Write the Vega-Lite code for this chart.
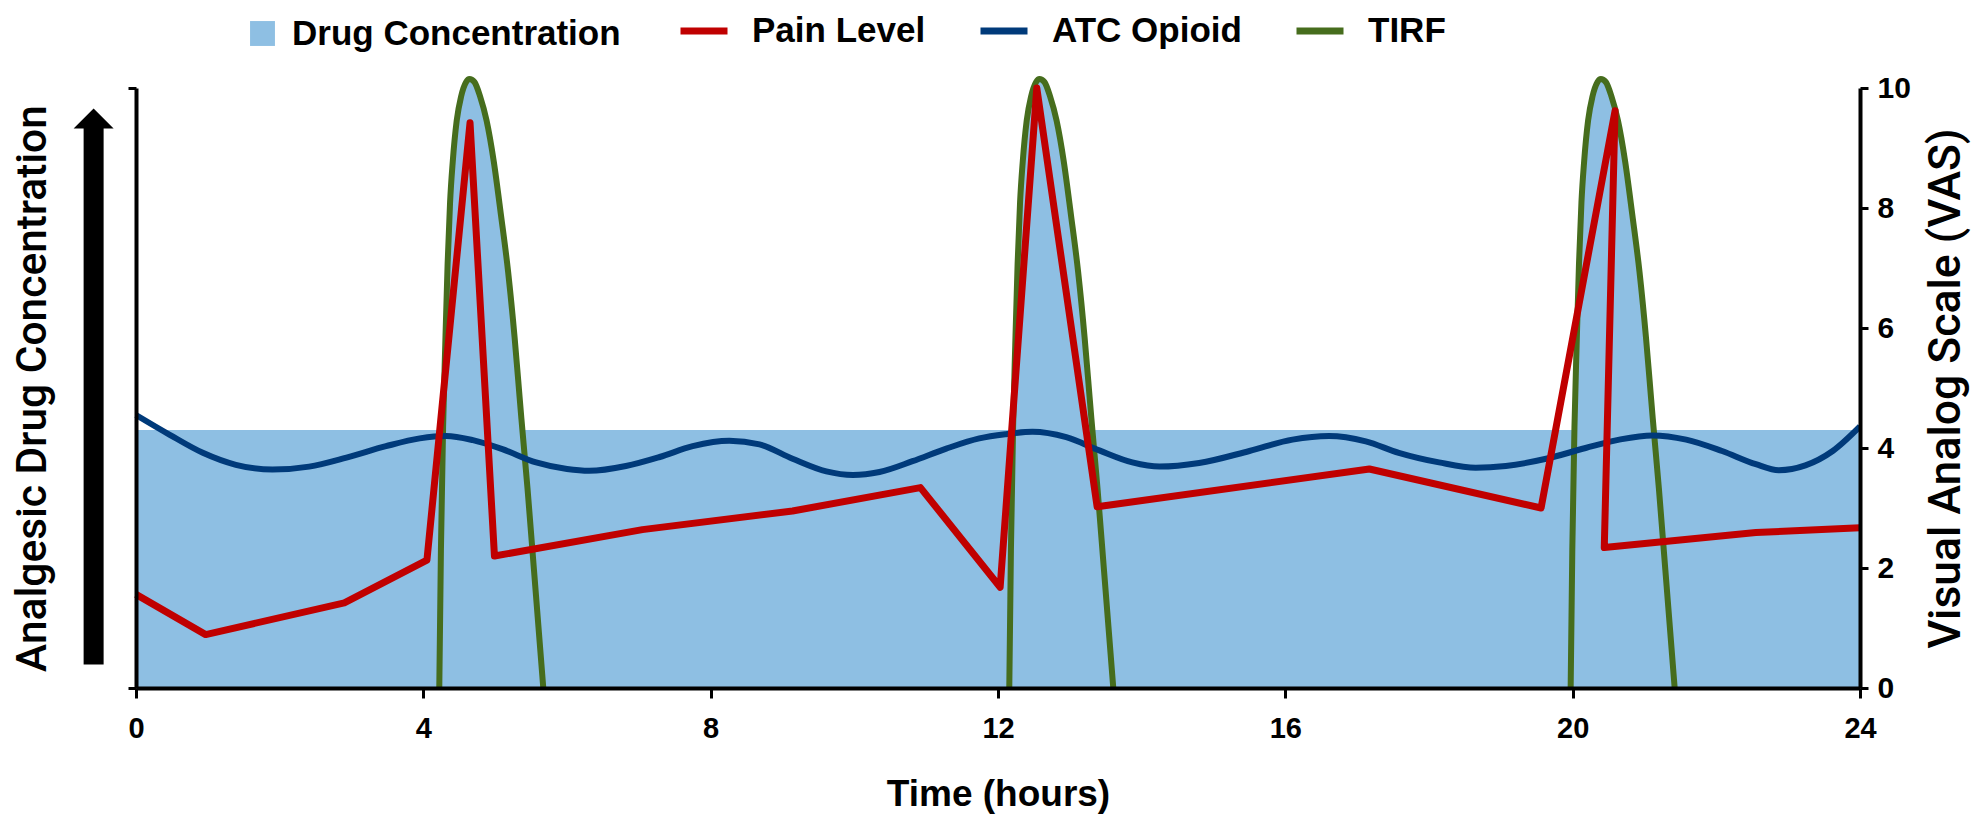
{
  "$schema": "https://vega.github.io/schema/vega-lite/v6.json",
  "width": 1724,
  "height": 600,
  "autosize": {"type": "none"},
  "padding": {"left": 136, "top": 88, "right": 111, "bottom": 128},
  "config": {"view": {"stroke": null}, "font": "Liberation Sans"},
  "datasets": {
    "conc": [
      {"series": "Drug Concentration", "t": 0, "v": 4.3},
      {"series": "Drug Concentration", "t": 4.274, "v": 4.3},
      {"series": "Drug Concentration", "t": 4.305, "v": 5.71},
      {"series": "Drug Concentration", "t": 4.338, "v": 7.07},
      {"series": "Drug Concentration", "t": 4.372, "v": 8.09},
      {"series": "Drug Concentration", "t": 4.41, "v": 8.78},
      {"series": "Drug Concentration", "t": 4.465, "v": 9.46},
      {"series": "Drug Concentration", "t": 4.526, "v": 9.86},
      {"series": "Drug Concentration", "t": 4.596, "v": 10.1},
      {"series": "Drug Concentration", "t": 4.642, "v": 10.15},
      {"series": "Drug Concentration", "t": 4.711, "v": 10.1},
      {"series": "Drug Concentration", "t": 4.79, "v": 9.86},
      {"series": "Drug Concentration", "t": 4.88, "v": 9.46},
      {"series": "Drug Concentration", "t": 4.98, "v": 8.78},
      {"series": "Drug Concentration", "t": 5.08, "v": 7.89},
      {"series": "Drug Concentration", "t": 5.18, "v": 6.94},
      {"series": "Drug Concentration", "t": 5.27, "v": 5.85},
      {"series": "Drug Concentration", "t": 5.32, "v": 5.14},
      {"series": "Drug Concentration", "t": 5.365, "v": 4.49},
      {"series": "Drug Concentration", "t": 5.379, "v": 4.3},
      {"series": "Drug Concentration", "t": 12.209, "v": 4.3},
      {"series": "Drug Concentration", "t": 12.24, "v": 5.71},
      {"series": "Drug Concentration", "t": 12.273, "v": 7.07},
      {"series": "Drug Concentration", "t": 12.307, "v": 8.09},
      {"series": "Drug Concentration", "t": 12.345, "v": 8.78},
      {"series": "Drug Concentration", "t": 12.4, "v": 9.46},
      {"series": "Drug Concentration", "t": 12.461, "v": 9.86},
      {"series": "Drug Concentration", "t": 12.531, "v": 10.1},
      {"series": "Drug Concentration", "t": 12.577, "v": 10.15},
      {"series": "Drug Concentration", "t": 12.646, "v": 10.1},
      {"series": "Drug Concentration", "t": 12.725, "v": 9.86},
      {"series": "Drug Concentration", "t": 12.815, "v": 9.46},
      {"series": "Drug Concentration", "t": 12.915, "v": 8.78},
      {"series": "Drug Concentration", "t": 13.015, "v": 7.89},
      {"series": "Drug Concentration", "t": 13.115, "v": 6.94},
      {"series": "Drug Concentration", "t": 13.205, "v": 5.85},
      {"series": "Drug Concentration", "t": 13.255, "v": 5.14},
      {"series": "Drug Concentration", "t": 13.3, "v": 4.49},
      {"series": "Drug Concentration", "t": 13.314, "v": 4.3},
      {"series": "Drug Concentration", "t": 20.024, "v": 4.3},
      {"series": "Drug Concentration", "t": 20.055, "v": 5.71},
      {"series": "Drug Concentration", "t": 20.088, "v": 7.07},
      {"series": "Drug Concentration", "t": 20.122, "v": 8.09},
      {"series": "Drug Concentration", "t": 20.16, "v": 8.78},
      {"series": "Drug Concentration", "t": 20.215, "v": 9.46},
      {"series": "Drug Concentration", "t": 20.276, "v": 9.86},
      {"series": "Drug Concentration", "t": 20.346, "v": 10.1},
      {"series": "Drug Concentration", "t": 20.392, "v": 10.15},
      {"series": "Drug Concentration", "t": 20.461, "v": 10.1},
      {"series": "Drug Concentration", "t": 20.54, "v": 9.86},
      {"series": "Drug Concentration", "t": 20.63, "v": 9.46},
      {"series": "Drug Concentration", "t": 20.73, "v": 8.78},
      {"series": "Drug Concentration", "t": 20.83, "v": 7.89},
      {"series": "Drug Concentration", "t": 20.93, "v": 6.94},
      {"series": "Drug Concentration", "t": 21.02, "v": 5.85},
      {"series": "Drug Concentration", "t": 21.07, "v": 5.14},
      {"series": "Drug Concentration", "t": 21.115, "v": 4.49},
      {"series": "Drug Concentration", "t": 21.129, "v": 4.3},
      {"series": "Drug Concentration", "t": 24, "v": 4.3}
    ],
    "tirf": [
      {"series": "TIRF", "seg": 1, "t": 4.222, "v": 0},
      {"series": "TIRF", "seg": 1, "t": 4.245, "v": 2.31},
      {"series": "TIRF", "seg": 1, "t": 4.275, "v": 4.35},
      {"series": "TIRF", "seg": 1, "t": 4.305, "v": 5.71},
      {"series": "TIRF", "seg": 1, "t": 4.338, "v": 7.07},
      {"series": "TIRF", "seg": 1, "t": 4.372, "v": 8.09},
      {"series": "TIRF", "seg": 1, "t": 4.41, "v": 8.78},
      {"series": "TIRF", "seg": 1, "t": 4.465, "v": 9.46},
      {"series": "TIRF", "seg": 1, "t": 4.526, "v": 9.86},
      {"series": "TIRF", "seg": 1, "t": 4.596, "v": 10.1},
      {"series": "TIRF", "seg": 1, "t": 4.642, "v": 10.15},
      {"series": "TIRF", "seg": 1, "t": 4.711, "v": 10.1},
      {"series": "TIRF", "seg": 1, "t": 4.79, "v": 9.86},
      {"series": "TIRF", "seg": 1, "t": 4.88, "v": 9.46},
      {"series": "TIRF", "seg": 1, "t": 4.98, "v": 8.78},
      {"series": "TIRF", "seg": 1, "t": 5.08, "v": 7.89},
      {"series": "TIRF", "seg": 1, "t": 5.18, "v": 6.94},
      {"series": "TIRF", "seg": 1, "t": 5.27, "v": 5.85},
      {"series": "TIRF", "seg": 1, "t": 5.32, "v": 5.14},
      {"series": "TIRF", "seg": 1, "t": 5.365, "v": 4.49},
      {"series": "TIRF", "seg": 1, "t": 5.45, "v": 3.33},
      {"series": "TIRF", "seg": 1, "t": 5.54, "v": 1.97},
      {"series": "TIRF", "seg": 1, "t": 5.67, "v": 0},
      {"series": "TIRF", "seg": 2, "t": 12.157, "v": 0},
      {"series": "TIRF", "seg": 2, "t": 12.18, "v": 2.31},
      {"series": "TIRF", "seg": 2, "t": 12.21, "v": 4.35},
      {"series": "TIRF", "seg": 2, "t": 12.24, "v": 5.71},
      {"series": "TIRF", "seg": 2, "t": 12.273, "v": 7.07},
      {"series": "TIRF", "seg": 2, "t": 12.307, "v": 8.09},
      {"series": "TIRF", "seg": 2, "t": 12.345, "v": 8.78},
      {"series": "TIRF", "seg": 2, "t": 12.4, "v": 9.46},
      {"series": "TIRF", "seg": 2, "t": 12.461, "v": 9.86},
      {"series": "TIRF", "seg": 2, "t": 12.531, "v": 10.1},
      {"series": "TIRF", "seg": 2, "t": 12.577, "v": 10.15},
      {"series": "TIRF", "seg": 2, "t": 12.646, "v": 10.1},
      {"series": "TIRF", "seg": 2, "t": 12.725, "v": 9.86},
      {"series": "TIRF", "seg": 2, "t": 12.815, "v": 9.46},
      {"series": "TIRF", "seg": 2, "t": 12.915, "v": 8.78},
      {"series": "TIRF", "seg": 2, "t": 13.015, "v": 7.89},
      {"series": "TIRF", "seg": 2, "t": 13.115, "v": 6.94},
      {"series": "TIRF", "seg": 2, "t": 13.205, "v": 5.85},
      {"series": "TIRF", "seg": 2, "t": 13.255, "v": 5.14},
      {"series": "TIRF", "seg": 2, "t": 13.3, "v": 4.49},
      {"series": "TIRF", "seg": 2, "t": 13.385, "v": 3.33},
      {"series": "TIRF", "seg": 2, "t": 13.475, "v": 1.97},
      {"series": "TIRF", "seg": 2, "t": 13.605, "v": 0},
      {"series": "TIRF", "seg": 3, "t": 19.972, "v": 0},
      {"series": "TIRF", "seg": 3, "t": 19.995, "v": 2.31},
      {"series": "TIRF", "seg": 3, "t": 20.025, "v": 4.35},
      {"series": "TIRF", "seg": 3, "t": 20.055, "v": 5.71},
      {"series": "TIRF", "seg": 3, "t": 20.088, "v": 7.07},
      {"series": "TIRF", "seg": 3, "t": 20.122, "v": 8.09},
      {"series": "TIRF", "seg": 3, "t": 20.16, "v": 8.78},
      {"series": "TIRF", "seg": 3, "t": 20.215, "v": 9.46},
      {"series": "TIRF", "seg": 3, "t": 20.276, "v": 9.86},
      {"series": "TIRF", "seg": 3, "t": 20.346, "v": 10.1},
      {"series": "TIRF", "seg": 3, "t": 20.392, "v": 10.15},
      {"series": "TIRF", "seg": 3, "t": 20.461, "v": 10.1},
      {"series": "TIRF", "seg": 3, "t": 20.54, "v": 9.86},
      {"series": "TIRF", "seg": 3, "t": 20.63, "v": 9.46},
      {"series": "TIRF", "seg": 3, "t": 20.73, "v": 8.78},
      {"series": "TIRF", "seg": 3, "t": 20.83, "v": 7.89},
      {"series": "TIRF", "seg": 3, "t": 20.93, "v": 6.94},
      {"series": "TIRF", "seg": 3, "t": 21.02, "v": 5.85},
      {"series": "TIRF", "seg": 3, "t": 21.07, "v": 5.14},
      {"series": "TIRF", "seg": 3, "t": 21.115, "v": 4.49},
      {"series": "TIRF", "seg": 3, "t": 21.2, "v": 3.33},
      {"series": "TIRF", "seg": 3, "t": 21.29, "v": 1.97},
      {"series": "TIRF", "seg": 3, "t": 21.42, "v": 0}
    ],
    "atc": [
      {"series": "ATC Opioid", "t": 0, "v": 4.55},
      {"series": "ATC Opioid", "t": 0.47, "v": 4.22},
      {"series": "ATC Opioid", "t": 0.93, "v": 3.92},
      {"series": "ATC Opioid", "t": 1.39, "v": 3.72},
      {"series": "ATC Opioid", "t": 1.9, "v": 3.64},
      {"series": "ATC Opioid", "t": 2.41, "v": 3.69},
      {"series": "ATC Opioid", "t": 2.93, "v": 3.84},
      {"series": "ATC Opioid", "t": 3.48, "v": 4.03},
      {"series": "ATC Opioid", "t": 3.95, "v": 4.16},
      {"series": "ATC Opioid", "t": 4.32, "v": 4.2},
      {"series": "ATC Opioid", "t": 4.69, "v": 4.13},
      {"series": "ATC Opioid", "t": 5.1, "v": 3.98},
      {"series": "ATC Opioid", "t": 5.57, "v": 3.76},
      {"series": "ATC Opioid", "t": 6.0, "v": 3.65},
      {"series": "ATC Opioid", "t": 6.31, "v": 3.62},
      {"series": "ATC Opioid", "t": 6.82, "v": 3.7},
      {"series": "ATC Opioid", "t": 7.29, "v": 3.85},
      {"series": "ATC Opioid", "t": 7.75, "v": 4.03},
      {"series": "ATC Opioid", "t": 8.26, "v": 4.12},
      {"series": "ATC Opioid", "t": 8.68, "v": 4.06},
      {"series": "ATC Opioid", "t": 9.14, "v": 3.82},
      {"series": "ATC Opioid", "t": 9.61, "v": 3.61},
      {"series": "ATC Opioid", "t": 9.98, "v": 3.55},
      {"series": "ATC Opioid", "t": 10.35, "v": 3.6},
      {"series": "ATC Opioid", "t": 10.81, "v": 3.78},
      {"series": "ATC Opioid", "t": 11.28, "v": 3.99},
      {"series": "ATC Opioid", "t": 11.74, "v": 4.16},
      {"series": "ATC Opioid", "t": 12.1, "v": 4.23},
      {"series": "ATC Opioid", "t": 12.48, "v": 4.27},
      {"series": "ATC Opioid", "t": 12.95, "v": 4.18},
      {"series": "ATC Opioid", "t": 13.41, "v": 3.96},
      {"series": "ATC Opioid", "t": 13.87, "v": 3.76},
      {"series": "ATC Opioid", "t": 14.25, "v": 3.69},
      {"series": "ATC Opioid", "t": 14.8, "v": 3.75},
      {"series": "ATC Opioid", "t": 15.5, "v": 3.95},
      {"series": "ATC Opioid", "t": 16.1, "v": 4.14},
      {"series": "ATC Opioid", "t": 16.61, "v": 4.2},
      {"series": "ATC Opioid", "t": 17.12, "v": 4.11},
      {"series": "ATC Opioid", "t": 17.58, "v": 3.92},
      {"series": "ATC Opioid", "t": 18.14, "v": 3.76},
      {"series": "ATC Opioid", "t": 18.65, "v": 3.67},
      {"series": "ATC Opioid", "t": 19.07, "v": 3.7},
      {"series": "ATC Opioid", "t": 19.63, "v": 3.82},
      {"series": "ATC Opioid", "t": 20.18, "v": 4.0},
      {"series": "ATC Opioid", "t": 20.65, "v": 4.14},
      {"series": "ATC Opioid", "t": 21.11, "v": 4.21},
      {"series": "ATC Opioid", "t": 21.58, "v": 4.14},
      {"series": "ATC Opioid", "t": 22.08, "v": 3.95},
      {"series": "ATC Opioid", "t": 22.55, "v": 3.73},
      {"series": "ATC Opioid", "t": 22.87, "v": 3.63},
      {"series": "ATC Opioid", "t": 23.24, "v": 3.71},
      {"series": "ATC Opioid", "t": 23.62, "v": 3.95},
      {"series": "ATC Opioid", "t": 24.0, "v": 4.36}
    ],
    "pain": [
      {"series": "Pain Level", "i": 1, "t": 0, "v": 1.56},
      {"series": "Pain Level", "i": 2, "t": 0.97, "v": 0.89},
      {"series": "Pain Level", "i": 3, "t": 2.9, "v": 1.42},
      {"series": "Pain Level", "i": 4, "t": 4.05, "v": 2.13},
      {"series": "Pain Level", "i": 5, "t": 4.65, "v": 9.42},
      {"series": "Pain Level", "i": 6, "t": 4.99, "v": 2.2},
      {"series": "Pain Level", "i": 7, "t": 7.05, "v": 2.64},
      {"series": "Pain Level", "i": 8, "t": 9.14, "v": 2.95},
      {"series": "Pain Level", "i": 9, "t": 10.92, "v": 3.34},
      {"series": "Pain Level", "i": 10, "t": 12.03, "v": 1.68},
      {"series": "Pain Level", "i": 11, "t": 12.54, "v": 10.0},
      {"series": "Pain Level", "i": 12, "t": 13.38, "v": 3.02},
      {"series": "Pain Level", "i": 13, "t": 17.17, "v": 3.65},
      {"series": "Pain Level", "i": 14, "t": 19.56, "v": 3.0},
      {"series": "Pain Level", "i": 15, "t": 20.59, "v": 9.62},
      {"series": "Pain Level", "i": 16, "t": 20.44, "v": 2.34},
      {"series": "Pain Level", "i": 17, "t": 22.55, "v": 2.59},
      {"series": "Pain Level", "i": 18, "t": 24, "v": 2.67}
    ],
    "arrow": [
      {"t": -0.59, "v": 0.39, "v2": 9.35, "vh": 9.49}
    ]
  },
  "layer": [
    {
      "data": {"name": "conc"},
      "mark": {"type": "area", "interpolate": "monotone", "opacity": 1},
      "encoding": {
        "x": {
          "field": "t", "type": "quantitative",
          "scale": {"domain": [0, 24], "nice": false, "zero": false},
          "axis": {
            "zindex": 1,
            "values": [0, 4, 8, 12, 16, 20, 24], "title": "Time (hours)", "grid": false,
            "labelFontSize": 29, "labelFontWeight": "bold", "labelColor": "black", "labelFlush": false, "labelPadding": 16,
            "titleFontSize": 37, "titleFontWeight": "bold", "titleColor": "black", "titlePadding": 33,
            "tickSize": 10, "tickWidth": 3, "tickColor": "black", "domainWidth": 4, "domainColor": "black"
          }
        },
        "y": {
          "field": "v", "type": "quantitative",
          "scale": {"domain": [0, 10], "nice": false},
          "axis": {
            "zindex": 1,
            "orient": "left", "values": [0, 10], "labels": false, "grid": false,
            "title": "Analgesic Drug Concentration", "titleFont": "Roboto", "titleFontSize": 42.5, "titleFontWeight": 500, "titleColor": "black", "titlePadding": 72,
            "tickSize": 8, "tickWidth": 3, "tickColor": "black", "domainWidth": 4, "domainColor": "black"
          }
        },
        "fill": {
          "field": "series", "type": "nominal",
          "scale": {"domain": ["Drug Concentration"], "range": ["#8EBFE3"]},
          "legend": {
            "orient": "none", "legendX": 109, "legendY": -72, "direction": "horizontal", "title": null,
            "labelFontSize": 35, "labelFontWeight": "bold", "labelColor": "black", "labelOffset": 12, "labelLimit": 0,
            "symbolType": "square", "symbolSize": 620, "symbolStrokeWidth": 0, "symbolOpacity": 1, "padding": 0
          }
        }
      }
    },
    {
      "data": {"name": "tirf"},
      "mark": {"type": "line", "interpolate": "monotone", "strokeWidth": 6},
      "encoding": {
        "x": {"field": "t", "type": "quantitative", "scale": {"domain": [0, 24], "nice": false, "zero": false}, "axis": null},
        "y": {"field": "v", "type": "quantitative", "scale": {"domain": [0, 10], "nice": false}, "axis": null},
        "detail": {"field": "seg", "type": "nominal"},
        "stroke": {
          "field": "series", "type": "nominal",
          "scale": {"domain": ["Pain Level", "ATC Opioid", "TIRF"], "range": ["#C00000", "#003A7A", "#466D1D"]},
          "legend": {
            "orient": "none", "legendX": 541, "legendY": -84, "direction": "horizontal", "title": null,
            "labelFontSize": 35, "labelFontWeight": "bold", "labelColor": "black", "labelOffset": 21, "labelLimit": 0,
            "columnPadding": 40, "symbolType": "M-1,0L1,0", "symbolSize": 2209, "symbolStrokeWidth": 7, "padding": 0
          }
        }
      }
    },
    {
      "data": {"name": "atc"},
      "mark": {"type": "line", "interpolate": "monotone", "strokeWidth": 6},
      "encoding": {
        "x": {"field": "t", "type": "quantitative", "scale": {"domain": [0, 24], "nice": false, "zero": false}, "axis": null},
        "y": {"field": "v", "type": "quantitative", "scale": {"domain": [0, 10], "nice": false}, "axis": null},
        "stroke": {"field": "series", "type": "nominal"}
      }
    },
    {
      "data": {"name": "pain"},
      "mark": {"type": "line", "strokeWidth": 7, "strokeJoin": "round"},
      "encoding": {
        "x": {"field": "t", "type": "quantitative", "scale": {"domain": [0, 24], "nice": false, "zero": false}, "axis": null},
        "y": {
          "field": "v", "type": "quantitative", "scale": {"domain": [0, 10], "nice": false},
          "axis": {
            "zindex": 1,
            "orient": "right", "values": [0, 2, 4, 6, 8, 10], "grid": false,
            "labelFontSize": 30, "labelFontWeight": "bold", "labelColor": "black", "labelPadding": 9, "labelFlush": false,
            "title": "Visual Analog Scale (VAS)", "titleAngle": 270, "titleBaseline": "top", "titleFont": "Roboto", "titleFontSize": 44.5, "titleFontWeight": 500, "titleColor": "black", "titlePadding": 14,
            "tickSize": 8, "tickWidth": 3, "tickColor": "black", "domainWidth": 4, "domainColor": "black"
          }
        },
        "order": {"field": "i", "type": "quantitative"},
        "stroke": {"field": "series", "type": "nominal"}
      }
    },
    {
      "data": {"name": "arrow"},
      "mark": {"type": "rule", "strokeWidth": 20, "color": "black", "strokeCap": "butt", "clip": false},
      "encoding": {
        "x": {"field": "t", "type": "quantitative", "scale": {"domain": [0, 24], "nice": false, "zero": false}, "axis": null},
        "y": {"field": "v", "type": "quantitative", "scale": {"domain": [0, 10], "nice": false}, "axis": null},
        "y2": {"field": "v2"}
      }
    },
    {
      "data": {"name": "arrow"},
      "mark": {"type": "point", "shape": "M-1,0.5L1,0.5L0,-0.5Z", "size": 1600, "filled": true, "color": "black", "opacity": 1, "strokeWidth": 0, "clip": false},
      "encoding": {
        "x": {"field": "t", "type": "quantitative", "scale": {"domain": [0, 24], "nice": false, "zero": false}, "axis": null},
        "y": {"field": "vh", "type": "quantitative", "scale": {"domain": [0, 10], "nice": false}, "axis": null}
      }
    }
  ],
  "resolve": {"scale": {"y": "shared", "x": "shared"}, "axis": {"y": "independent", "x": "independent"}}
}
